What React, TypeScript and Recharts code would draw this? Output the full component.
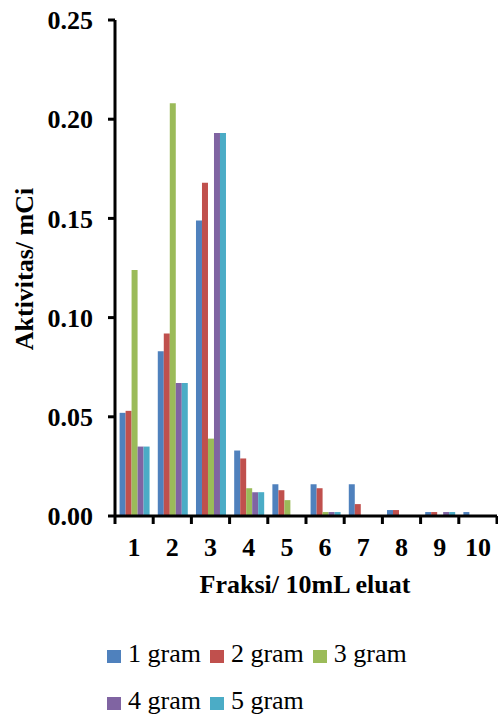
import React from 'react';
import { BarChart, Bar, XAxis, YAxis } from 'recharts';

// fraction numbers (x categories)
const fractions = ['1', '2', '3', '4', '5', '6', '7', '8', '9', '10'];

// activity (mCi) per fraction, one array per sample mass
const gram1 = [0.052, 0.083, 0.149, 0.033, 0.016, 0.016, 0.016, 0.003, 0.002, 0.002];
const gram2 = [0.053, 0.092, 0.168, 0.029, 0.013, 0.014, 0.006, 0.003, 0.002, 0];
const gram3 = [0.124, 0.208, 0.039, 0.014, 0.008, 0.002, 0, 0, 0, 0];
const gram4 = [0.035, 0.067, 0.193, 0.012, 0, 0.002, 0, 0, 0.002, 0];
const gram5 = [0.035, 0.067, 0.193, 0.012, 0, 0.002, 0, 0, 0.002, 0];

const yTicks = [0, 0.05, 0.1, 0.15, 0.2, 0.25];

const series = [
  { key: 'g1', name: '1 gram', color: '#4F81BD', values: gram1 },
  { key: 'g2', name: '2 gram', color: '#C0504D', values: gram2 },
  { key: 'g3', name: '3 gram', color: '#9BBB59', values: gram3 },
  { key: 'g4', name: '4 gram', color: '#8064A2', values: gram4 },
  { key: 'g5', name: '5 gram', color: '#4BACC6', values: gram5 },
];

const data = fractions.map((name, i) => {
  const row: Record<string, string | number> = { name };
  series.forEach(s => {
    row[s.key] = s.values[i];
  });
  return row;
});

const FONT = '"Liberation Serif", "Times New Roman", serif';
const W = 498;
const H = 715;
const PLOT_LEFT = 115;
const PLOT_RIGHT = 497;
const PLOT_TOP = 20;
const PLOT_BOTTOM = 516;
const STEP = (PLOT_RIGHT - PLOT_LEFT) / fractions.length;

const XTick = (props: any) => {
  const { x, payload, index } = props;
  return (
    <g>
      <line x1={x - STEP / 2} y1={PLOT_BOTTOM} x2={x - STEP / 2} y2={PLOT_BOTTOM + 8} stroke="#000" strokeWidth={3} />
      {index === fractions.length - 1 && (
        <line x1={x + STEP / 2} y1={PLOT_BOTTOM} x2={x + STEP / 2} y2={PLOT_BOTTOM + 8} stroke="#000" strokeWidth={3} />
      )}
      <text x={x} y={556} textAnchor="middle" fontFamily={FONT} fontWeight="bold" fontSize={26} fill="#000">
        {payload.value}
      </text>
    </g>
  );
};

const YTitle = () => (
  <text
    x={33}
    y={269}
    transform="rotate(-90, 33, 269)"
    textAnchor="middle"
    fontFamily={FONT}
    fontWeight="bold"
    fontSize={26}
    fill="#000"
  >
    Aktivitas/ mCi
  </text>
);

const XTitle = () => (
  <text x={305} y={593} textAnchor="middle" fontFamily={FONT} fontWeight="bold" fontSize={26} fill="#000">
    Fraksi/ 10mL eluat
  </text>
);

export default function App() {
  return (
    <div style={{ position: 'absolute', left: 0, top: 0, width: W, height: H, background: '#fff' }}>
      <BarChart
        width={W}
        height={H}
        data={data}
        margin={{ top: PLOT_TOP, right: W - PLOT_RIGHT, bottom: H - PLOT_BOTTOM - 80, left: 0 }}
        barCategoryGap="12%"
        barGap={0}
      >
        <XAxis
          dataKey="name"
          height={80}
          interval={0}
          tickLine={false}
          axisLine={{ stroke: '#000', strokeWidth: 3 }}
          tick={<XTick />}
          label={XTitle}
        />
        <YAxis
          width={PLOT_LEFT}
          domain={[0, 0.25]}
          ticks={yTicks}
          tickFormatter={(v: number) => v.toFixed(2)}
          tickSize={7}
          tickMargin={15}
          axisLine={{ stroke: '#000', strokeWidth: 3 }}
          tickLine={{ stroke: '#000', strokeWidth: 3 }}
          tick={{ fontFamily: FONT, fontWeight: 'bold', fontSize: 26, fill: '#000' }}
          label={YTitle}
        />
        {series.map(s => (
          <Bar key={s.key} dataKey={s.key} name={s.name} fill={s.color} isAnimationActive={false} />
        ))}
      </BarChart>

      {/* legend, laid out like the Excel one: three items, then two */}
      <div
        style={{
          position: 'absolute',
          left: 107,
          top: 641,
          width: 300,
          display: 'flex',
          flexWrap: 'wrap',
          columnGap: 9,
          rowGap: 21,
          fontFamily: FONT,
          fontSize: 26,
          lineHeight: '26px',
          color: '#000',
        }}
      >
        {series.map(s => (
          <div key={s.key} style={{ display: 'flex', alignItems: 'center', height: 26 }}>
            <span
              style={{ display: 'inline-block', width: 14, height: 13, background: s.color, marginRight: 7, marginTop: 4 }}
            />
            <span>{s.name}</span>
          </div>
        ))}
      </div>
    </div>
  );
}
